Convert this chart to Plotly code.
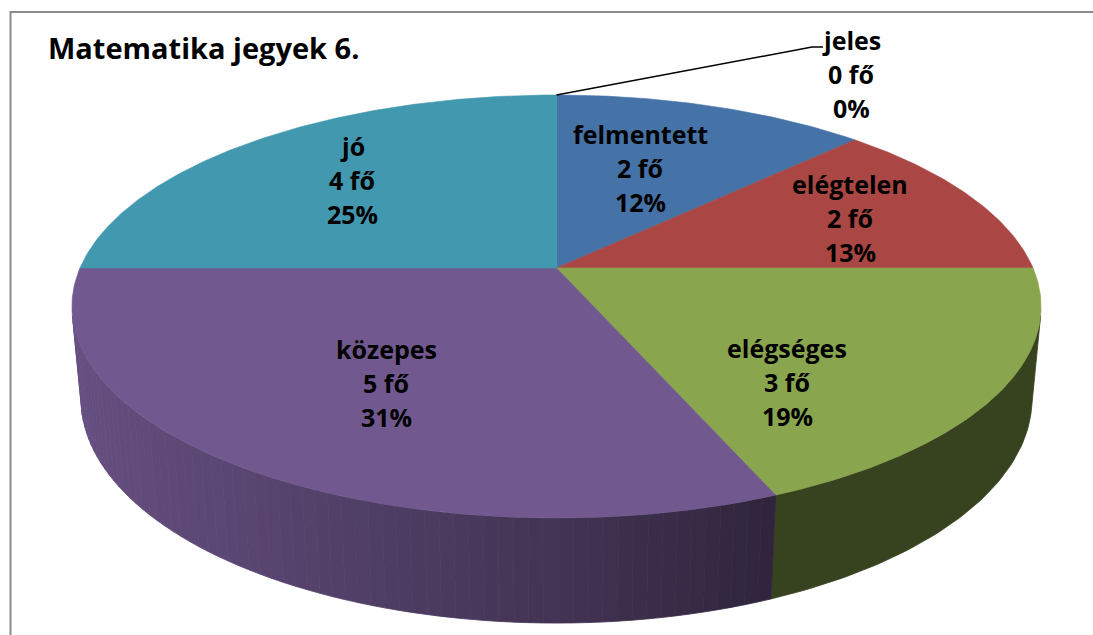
import numpy as np
import plotly.graph_objects as go

# ---- data ----
categories = ["felmentett", "elégtelen", "elégséges", "közepes", "jó", "jeles"]
counts = [2, 2, 3, 5, 4, 0]
count_text = ["2 fő", "2 fő", "3 fő", "5 fő", "4 fő", "0 fő"]
pct_text = ["12%", "13%", "19%", "31%", "25%", "0%"]
title_text = "Matematika jegyek 6."

# ---- styles / layout constants ----
colors = ["#4572A7", "#AA4643", "#89A54E", "#71588F", "#4198AF", "#DB843D"]
# label centres (middle line) in page pixels
label_pos = [(640, 168), (850, 218), (787, 382), (386, 383), (352, 180), (851, 74)]
line_gap = 34
W, H_PX = 1093, 635

# perspective pie geometry (pixels)
CX, CY = 556.5, 268.0
A_X, B_Y = 476.5, 204.5
K = 0.182
DEPTH = 0.215
sphi = B_Y / A_X
cphi = np.sqrt(1 - sphi ** 2)
D = cphi / K
F = A_X * D
FLAT_UNTIL = 155.0


def proj(theta_deg, z=0.0, r=1.0):
    t = np.radians(theta_deg)
    u = r * np.sin(t)
    v = -r * np.cos(t)
    d = D - v * cphi - z * sphi
    X = CX + F * u / d
    Y = CY + F * (v * sphi - z * cphi) / d
    return X, Y


def shade(hexcol, f):
    h = hexcol.lstrip("#")
    r, g, b = (int(h[i:i + 2], 16) for i in (0, 2, 4))
    return "rgb(%d,%d,%d)" % (round(r * f), round(g * f), round(b * f))


def side_factor(theta):
    if theta <= FLAT_UNTIL:
        return 0.40
    s = np.sin(np.radians(min(90.0, (theta - FLAT_UNTIL) / (260 - FLAT_UNTIL) * 90)))
    return 0.40 + 0.5 * s


total = sum(counts)
starts, ends = [], []
acc = 0.0
for c in counts:
    starts.append(acc / total * 360)
    acc += c
    ends.append(acc / total * 360)

sil1 = np.degrees(np.arccos(-1.0 / (D * cphi)))
sil2 = 360 - sil1

fig = go.Figure()


def add_wall(ta, tb, col, npts=4):
    ts = np.linspace(ta, tb, npts)
    xt, yt = proj(ts, 0.0)
    xb, yb = proj(ts[::-1], -DEPTH)
    xs = list(xt) + list(xb) + [xt[0]]
    ys = list(yt) + list(yb) + [yt[0]]
    fig.add_trace(go.Scatter(x=xs, y=ys, mode="lines", fill="toself",
                             fillcolor=col, line=dict(color=col, width=0.8),
                             hoverinfo="skip", showlegend=False))


# side walls
for i, c in enumerate(counts):
    if c == 0:
        continue
    s0, s1 = max(starts[i], sil1), min(ends[i], sil2)
    if s0 >= s1:
        continue
    if s1 <= FLAT_UNTIL + 3:
        add_wall(s0, s1, shade(colors[i], side_factor(s0)), 60)
        continue
    n = int(np.ceil((s1 - s0) / 1.5))
    edges = np.linspace(s0, s1, n + 1)
    for j in range(n):
        ta, tb = edges[j], edges[j + 1]
        add_wall(ta, tb, shade(colors[i], side_factor((ta + tb) / 2)))

# top faces
for i, c in enumerate(counts):
    if c == 0:
        continue
    ts = np.linspace(starts[i], ends[i], max(2, int((ends[i] - starts[i]) * 2) + 1))
    xa, ya = proj(ts, 0.0)
    xs = [CX] + list(xa) + [CX]
    ys = [CY] + list(ya) + [CY]
    fig.add_trace(go.Scatter(x=xs, y=ys, mode="lines", fill="toself",
                             fillcolor=colors[i], line=dict(color=colors[i], width=0.6),
                             hoverinfo="skip", showlegend=False, name=categories[i]))

# leader line for zero slice (jeles)
jx, jy = proj(starts[5], 0.0)
fig.add_trace(go.Scatter(x=[jx, 812, 823], y=[jy, 47, 47], mode="lines",
                         line=dict(color="black", width=1.5),
                         hoverinfo="skip", showlegend=False))

# frame lines
fig.add_trace(go.Scatter(x=[10.5, 10.5, W], y=[H_PX, 12, 12], mode="lines",
                         line=dict(color="#8a8a8a", width=2),
                         hoverinfo="skip", showlegend=False))

font = dict(family="Open Sans", size=25, color="black")
annotations = []
for i in range(len(categories)):
    lx, ly = label_pos[i]
    for k, txt in enumerate([categories[i], count_text[i], pct_text[i]]):
        annotations.append(dict(x=lx, y=ly + (k - 1) * line_gap, xref="x", yref="y",
                                text="<b>%s</b>" % txt, showarrow=False,
                                xanchor="center", yanchor="middle", font=font))
annotations.append(dict(x=46, y=47, xref="x", yref="y", text="<b>%s</b>" % title_text,
                        showarrow=False, xanchor="left", yanchor="middle",
                        font=dict(family="Open Sans", size=29, color="black")))

fig.update_layout(
    width=W, height=H_PX,
    margin=dict(l=0, r=0, t=0, b=0),
    paper_bgcolor="white", plot_bgcolor="white",
    xaxis=dict(range=[0, W], visible=False, fixedrange=True),
    yaxis=dict(range=[H_PX, 0], visible=False, fixedrange=True),
    annotations=annotations,
    showlegend=False,
    hovermode=False,
)

fig.write_html("out.html", config={"displayModeBar": False},
               post_script="document.body.style.margin='0';")
